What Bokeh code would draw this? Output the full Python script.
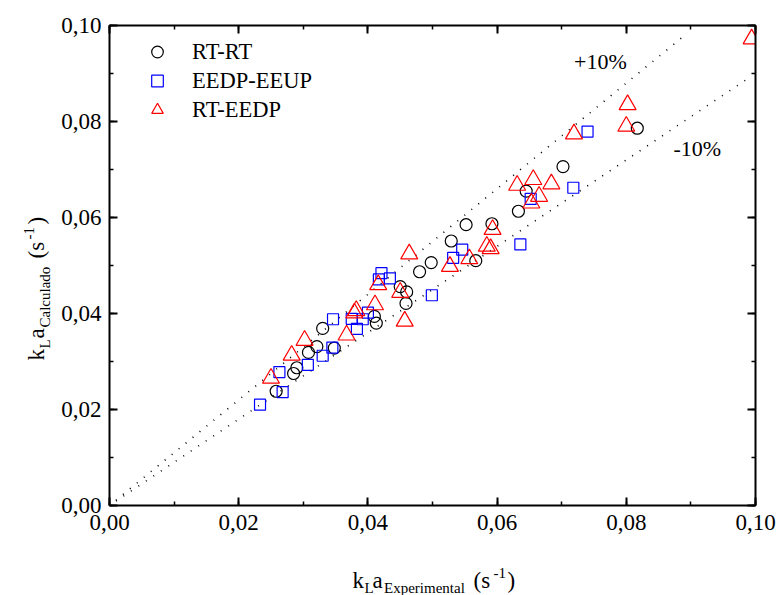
import math
from bokeh.plotting import figure
from bokeh.layouts import row, column
from bokeh.models import (Range1d, LinearAxis, SingleIntervalTicker, CustomJSTickFormatter,
                          Label, Legend, LegendItem)
from bokeh.embed import file_html
from bokeh.resources import INLINE

# ---- data ----
rt_rt_x = [0.0258, 0.0285, 0.0290, 0.0308, 0.0321, 0.0348, 0.0330, 0.0410, 0.0413, 0.0450,
           0.0460, 0.0459, 0.0480, 0.0498, 0.0529, 0.0552, 0.0567, 0.0592, 0.0633, 0.0645,
           0.0702, 0.0817]
rt_rt_y = [0.0238, 0.0275, 0.0287, 0.0319, 0.0331, 0.0328, 0.0369, 0.0394, 0.0380, 0.0456,
           0.0445, 0.0421, 0.0487, 0.0506, 0.0551, 0.0585, 0.0510, 0.0587, 0.0613, 0.0655,
           0.0706, 0.0786]

eedp_x = [0.0233, 0.0268, 0.0263, 0.0307, 0.0330, 0.0345, 0.0346, 0.0383, 0.0375, 0.0392,
          0.0400, 0.0421, 0.0434, 0.0417, 0.0499, 0.0532, 0.0546, 0.0636, 0.0652, 0.0718,
          0.0740]
eedp_y = [0.0210, 0.0236, 0.0278, 0.0293, 0.0312, 0.0329, 0.0388, 0.0368, 0.0389, 0.0388,
          0.0402, 0.0484, 0.0473, 0.0471, 0.0438, 0.0516, 0.0533, 0.0544, 0.0639, 0.0662,
          0.0779]

rte_x = [0.0250, 0.0282, 0.0302, 0.0367, 0.0379, 0.0382, 0.0411, 0.0416, 0.0450, 0.0457,
         0.0464, 0.0527, 0.0557, 0.0584, 0.0590, 0.0593, 0.0631, 0.0656, 0.0665, 0.0653,
         0.0684, 0.0719, 0.0802, 0.0800, 0.0994]
rte_y = [0.0265, 0.0313, 0.0344, 0.0355, 0.0401, 0.0406, 0.0418, 0.0460, 0.0444, 0.0384,
         0.0524, 0.0498, 0.0514, 0.0540, 0.0535, 0.0575, 0.0667, 0.0679, 0.0644, 0.0630,
         0.0670, 0.0774, 0.0835, 0.0790, 0.0972]

series_names = ["RT-RT", "EEDP-EEUP", "RT-EEDP"]
band_factors = [1.1, 0.9]
band_x_end = [0.0894, 0.0994]
band_x_start = 0.001
band_labels = ["+10%", "-10%"]

FONT = "Liberation Serif"
W, H = 778, 595
FRAME_L = 109      # page x of the plot frame's left edge
YT_W = 58          # width of the strip holding the y title
XT_H = 50          # height of the strip holding the x title
MAIN_W, MAIN_H = W - YT_W, H - XT_H

p = figure(width=MAIN_W, height=MAIN_H, output_backend="svg", toolbar_location=None,
           x_range=Range1d(0, 0.1), y_range=Range1d(0, 0.1),
           min_border_left=FRAME_L - YT_W, min_border_right=W - 755, min_border_top=25,
           min_border_bottom=MAIN_H - 505)
p.outline_line_color = None
p.grid.visible = False

fmt = CustomJSTickFormatter(code="return tick.toFixed(2).replace('.', ',');")
blank = CustomJSTickFormatter(code="return '';")


def style_axis(ax, labels=True):
    ax.ticker = SingleIntervalTicker(interval=0.02, num_minor_ticks=2)
    ax.axis_line_width = 2
    ax.axis_line_color = "black"
    ax.major_tick_in = 8
    ax.major_tick_out = 0
    ax.minor_tick_in = 4
    ax.minor_tick_out = 0
    ax.major_tick_line_width = 2
    ax.minor_tick_line_width = 1.5
    ax.axis_label = None
    if labels:
        ax.formatter = fmt
        ax.major_label_text_font = FONT
        ax.major_label_text_font_size = "23px"
        ax.major_label_text_color = "black"
        ax.major_label_standoff = 8
    else:
        ax.formatter = blank
        ax.major_label_text_font_size = "1px"
        ax.major_label_text_color = None
        ax.major_label_standoff = 0


style_axis(p.xaxis[0])
style_axis(p.yaxis[0])
p.xaxis[0].major_label_standoff = 9
top_ax = LinearAxis()
right_ax = LinearAxis()
style_axis(top_ax, labels=False)
style_axis(right_ax, labels=False)
p.add_layout(top_ax, "above")
p.add_layout(right_ax, "right")

# +/-10% reference lines
for f, xe in zip(band_factors, band_x_end):
    p.line([band_x_start, xe], [band_x_start * f, xe * f], line_color="black",
           line_width=1.6, line_dash="1 8")

r1 = p.scatter(rt_rt_x, rt_rt_y, marker="circle", size=12, fill_color=None,
               line_color="black", line_width=1.2)
r2 = p.scatter(eedp_x, eedp_y, marker="square", size=11, fill_color=None,
               line_color="#0000ff", line_width=1.2)
r3 = p.scatter(rte_x, rte_y, marker="triangle", size=17, fill_color=None,
               line_color="#ff0000", line_width=1.2)

legend = Legend(items=[LegendItem(label=series_names[0], renderers=[r1]),
                       LegendItem(label=series_names[1], renderers=[r2]),
                       LegendItem(label=series_names[2], renderers=[r3])],
                location=(33, 381), glyph_width=30, glyph_height=29,
                label_height=29, spacing=0, padding=0, margin=0,
                label_standoff=20, border_line_color=None,
                background_fill_alpha=0, label_text_font=FONT,
                label_text_font_size="22.5px", label_text_color="black")
p.add_layout(legend, "center")

p.add_layout(Label(x=0.0719, y=0.0898, text=band_labels[0], text_font=FONT,
                   text_font_size="22px", text_color="black"))
p.add_layout(Label(x=0.0873, y=0.0717, text=band_labels[1], text_font=FONT,
                   text_font_size="22px", text_color="black"))


def strip(w, h):
    f = figure(width=w, height=h, output_backend="svg", toolbar_location=None,
               x_range=Range1d(0, 1), y_range=Range1d(0, 1),
               x_axis_location=None, y_axis_location=None, min_border=0)
    f.outline_line_color = None
    f.grid.visible = False
    return f


MAIN, SUB = "23px", "15px"

# x title strip (its frame is aligned with the main plot's frame by the column layout)
xt = strip(MAIN_W, XT_H)


def xpiece(txt, px, py, size):
    xt.add_layout(Label(x=px - FRAME_L, y=H - py, x_units="screen", y_units="screen",
                        text=txt, text_font=FONT, text_font_size=size, text_color="black",
                        text_baseline="alphabetic", text_align="left"))


xpiece("k", 352, 580, MAIN)
xpiece("L", 364, 587, SUB)
xpiece("a", 372, 580, MAIN)
xpiece("Experimental", 383.5, 587, SUB)
xpiece("(s", 473, 580, MAIN)
xpiece("-1", 493, 572, SUB)
xpiece(")", 507, 580, MAIN)

# y title strip (rotated text, reading upward)
yt = strip(YT_W, H)
A = math.pi / 2


def ypiece(txt, px, py, size):
    yt.add_layout(Label(x=px, y=H - py, x_units="screen", y_units="screen",
                        text=txt, text_font=FONT, text_font_size=size, text_color="black",
                        angle=A, text_baseline="alphabetic", text_align="left"))


ypiece("k", 36, 360, MAIN)
ypiece("L", 44, 348, SUB)
ypiece("a", 36, 338, MAIN)
ypiece("Calculado", 44, 327, SUB)
ypiece("(s", 36, 258, MAIN)
ypiece("-1", 28, 239, SUB)
ypiece(")", 36, 224, MAIN)

layout = row(yt, column(p, xt, spacing=0), spacing=0)

open("out.html", "w").write(file_html(layout, INLINE))
